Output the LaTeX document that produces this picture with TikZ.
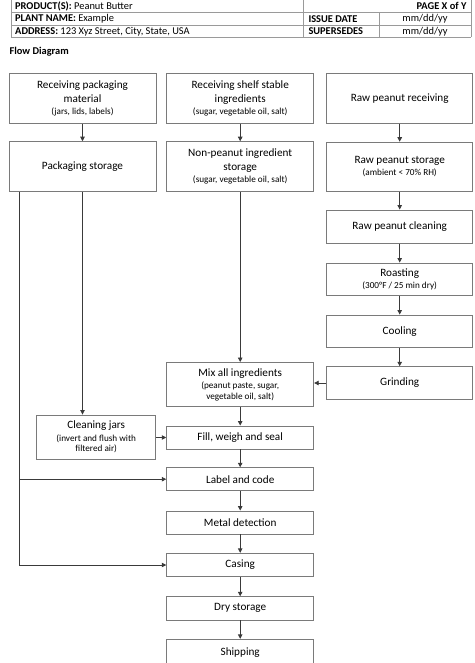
\documentclass[tikz,border=0pt]{standalone}
\usepackage{fontspec}
\setmainfont{Carlito}
\usetikzlibrary{arrows.meta}
\definecolor{boxc}{HTML}{7A7A7A}
\definecolor{arrc}{HTML}{3A3A3A}
\definecolor{tblc}{HTML}{9A9A9A}
\newcommand\mainf{\fontsize{11.2}{13.8}\selectfont}
\newcommand\subf{\fontsize{9.2}{11.5}\selectfont}
\newcommand\hdf{\fontsize{10.4}{12}\selectfont}
\newcommand\bx[6]{\node[box, minimum width={#4-#2}, minimum height={#5-#3}] (#1) at ({(#2+#4)/2},{(#3+#5)/2}) {#6};}
\begin{document}
\begin{tikzpicture}[x=1pt,y=-1pt,
  box/.style={draw=boxc, line width=0.9pt, align=center, inner sep=0pt, font=\mainf, text=black},
  arr/.style={draw=arrc, line width=0.8pt, -{Triangle[length=4.5pt,width=4.5pt]}},
  tbl/.style={draw=tblc, line width=0.8pt},
  hd/.style={font=\hdf, inner sep=0pt, text=black},
]
\useasboundingbox (0,0) rectangle (474,663);
% header table
\draw[tbl] (11,0) -- (11,37.3) (303.3,0) -- (303.3,37.3) (379.3,12.3) -- (379.3,37.3) (471,0) -- (471,37.3);
\draw[tbl] (11,12.3) -- (471,12.3) (11,25.3) -- (471,25.3) (11,37.3) -- (471,37.3);
\node[hd, anchor=west] (h1) at (15,6.4) {\textbf{PRODUCT(S):} Peanut Butter};
\node[hd, anchor=east] (h2) at (466.7,6.4) {\textbf{PAGE X of Y}};
\node[hd, anchor=west] (h3) at (15,19) {\textbf{PLANT NAME:} Example};
\node[hd, anchor=west] (h4) at (308.3,19) {\textbf{ISSUE DATE}};
\node[hd] (h5) at (425,19) {mm/dd/yy};
\node[hd, anchor=west] (h6) at (15,31.5) {\textbf{ADDRESS:} 123 Xyz Street, City, State, USA};
\node[hd, anchor=west] (h7) at (308.3,31.5) {\textbf{SUPERSEDES}};
\node[hd] (h8) at (425,31.5) {mm/dd/yy};
\node[hd, anchor=west] (title) at (9.3,51.7) {\textbf{Flow Diagram}};
% boxes
\bx{recpack}{9}{73.3}{156}{123.3}{Receiving packaging\\ material\\[-1.5pt] {\subf (jars, lids, labels)}}
\bx{packst}{9}{141.7}{156}{191.7}{Packaging storage}
\bx{recshelf}{166.7}{73.3}{313.7}{123.3}{Receiving shelf stable\\ ingredients\\[-1.5pt] {\subf (sugar, vegetable oil, salt)}}
\bx{nonpeanut}{166.7}{141.7}{313.7}{191.7}{Non-peanut ingredient\\ storage\\[-1.5pt] {\subf (sugar, vegetable oil, salt)}}
\bx{rawrec}{326.7}{73.3}{472.7}{123.3}{Raw peanut receiving}
\bx{rawst}{326.7}{142.2}{472.7}{191.2}{Raw peanut storage\\[-1.5pt] {\subf (ambient < 70\% RH)}}
\bx{rawclean}{326.7}{210}{472.7}{243.3}{Raw peanut cleaning}
\bx{roast}{326.7}{263}{472.7}{295.5}{Roasting\\[-1.5pt] {\subf (300°F / 25 min dry)}}
\bx{cool}{326.7}{315}{472.7}{347.7}{Cooling}
\bx{grind}{326.7}{366.7}{472.7}{399.3}{Grinding}
\bx{mix}{166.7}{362.5}{313.7}{406.7}{Mix all ingredients\\[-1.5pt] {\subf (peanut paste, sugar,}\\[-3pt] {\subf vegetable oil, salt)}}
\bx{cleanjars}{36.7}{415}{155.7}{459.3}{Cleaning jars\\[-1.5pt] {\subf (invert and flush with}\\[-3pt] {\subf filtered air)}}
\bx{fill}{166.7}{426}{313.7}{449}{Fill, weigh and seal}
\bx{label}{166.7}{467.7}{313.7}{490.7}{Label and code}
\bx{metal}{166.7}{511}{313.7}{534}{Metal detection}
\bx{casing}{166.7}{553.3}{313.7}{576.7}{Casing}
\bx{dry}{166.7}{596.7}{313.7}{620}{Dry storage}
\bx{ship}{166.7}{639.3}{313.7}{665}{Shipping}
% connectors
\draw[arr] (recpack.south) -- (packst.north);
\draw[arr] (recshelf.south) -- (nonpeanut.north);
\draw[arr] (rawrec.south) -- (rawst.north);
\draw[arr] (rawst.south) -- (rawclean.north);
\draw[arr] (rawclean.south) -- (roast.north);
\draw[arr] (roast.south) -- (cool.north);
\draw[arr] (cool.south) -- (grind.north);
\draw[arr] (grind.west) -- (grind.west -| mix.east);
\draw[arr] (nonpeanut.south) -- (mix.north);
\draw[arr] (packst.south) -- (packst.south |- cleanjars.north);
\draw[arr] (cleanjars.east |- fill.west) -- (fill.west);
\draw[arr] (mix.south) -- (fill.north);
\draw[arr] (fill.south) -- (label.north);
\draw[arr] (label.south) -- (metal.north);
\draw[arr] (metal.south) -- (casing.north);
\draw[arr] (casing.south) -- (dry.north);
\draw[arr] (dry.south) -- (ship.north);
\coordinate (pl) at (19.3,191.7);
\draw[arr] (pl) |- (casing.west);
\draw[arr] (pl |- label.west) -- (label.west);
\end{tikzpicture}
\end{document}
